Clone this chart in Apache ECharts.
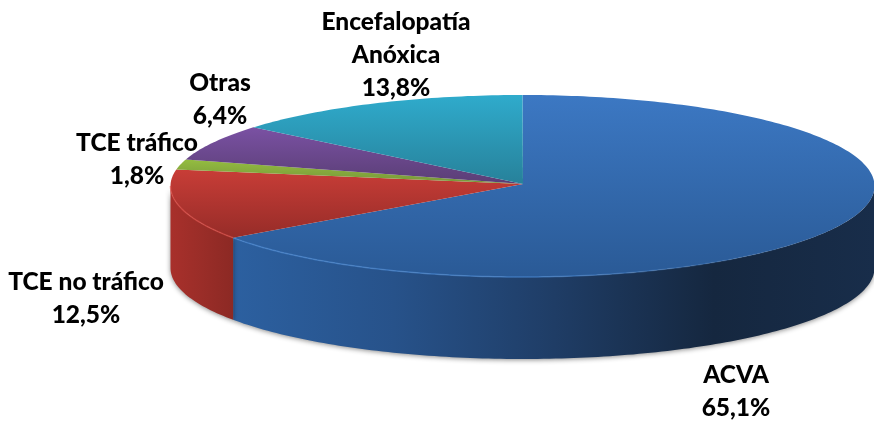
<!DOCTYPE html>
<html>
<head>
<meta charset="utf-8">
<style>
  html, body { margin: 0; padding: 0; background: #fff; }
  #chart { width: 874px; height: 424px; }
</style>
<script src="https://cdn.jsdelivr.net/npm/echarts@6/dist/echarts.min.js"></script>
</head>
<body>
<div id="chart"></div>
<script>
// data, clockwise from 12 o'clock
var categories = ["ACVA", "TCE no tráfico", "TCE tráfico", "Otras", "Encefalopatía\nAnóxica"];
var values = [65.1, 12.5, 1.8, 6.4, 13.8];
var valueLabels = ["65,1%", "12,5%", "1,8%", "6,4%", "13,8%"];

// layout of the tilted pie
var cx = 522.5, cy = 186, rx = 352, ry = 91, depth = 82;
var apex = [523, 184];
var labelPos = [[736, 375], [86, 282], [137, 143], [220, 83], [396, 22]];

// [top colour, bottom colour]
var topColors = [["#3c78c3", "#2a5a96"], ["#c83d37", "#962c28"], ["#94bd40", "#76953a"], ["#7a51a3", "#5a3e75"], ["#2fabcc", "#27819a"]];
var rimColors = ["#4a8ad6", "#e0504a", "#94bd40", "#7a51a3", "#2fabcc"];
// colours of the visible wall, left to right
var sideColors = [["#2c60a0", "#27528a", "#1f3d66", "#15273f", "#182d4a"], ["#a8302b", "#9a2d28", "#8c2924"]];

var total = 0;
values.forEach(function (v) { total += v; });

function sliceAngles(idx) {
    var a = 0;
    for (var i = 0; i < idx; i++) a += values[i];
    return [a / total * 360, (a + values[idx]) / total * 360];
}

function rimPoint(deg, dy) {
    var r = deg * Math.PI / 180;
    return [cx + rx * Math.sin(r), cy - ry * Math.cos(r) + dy];
}

function arcPoints(from, to, dy) {
    var pts = [];
    var n = Math.max(2, Math.ceil(Math.abs(to - from)));
    for (var i = 0; i <= n; i++) pts.push(rimPoint(from + (to - from) * i / n, dy));
    return pts;
}

function gradient(x2, y2, colors) {
    var stops = colors.map(function (c, i) {
        return { offset: i / (colors.length - 1), color: c };
    });
    return new echarts.graphic.LinearGradient(0, 0, x2, y2, stops);
}

function renderSide(params, api) {
    var ang = sliceAngles(params.dataIndex);
    var from = Math.max(ang[0], 90), to = Math.min(ang[1], 270);
    if (to <= from) return { type: "group", children: [] };
    var pts = arcPoints(from, to, 0).concat(arcPoints(to, from, depth));
    return {
        type: "polygon",
        shape: { points: pts },
        style: {
            fill: gradient(1, 0, sideColors[params.dataIndex]),
            shadowColor: "rgba(0,0,0,0.45)",
            shadowBlur: 5,
            shadowOffsetY: 1
        }
    };
}

function renderTop(params, api) {
    var i = params.dataIndex;
    var ang = sliceAngles(i);
    var pts = [apex].concat(arcPoints(ang[0], ang[1], 0));
    var children = [{
        type: "polygon",
        shape: { points: pts },
        style: { fill: gradient(0, 1, topColors[i]) }
    }];
    // light bevel along the front rim, fading out to the right
    var from = Math.max(ang[0], 120), to = Math.min(ang[1], 270);
    if (to > from) {
        children.push({
            type: "polyline",
            shape: { points: arcPoints(from, to, 0) },
            style: {
                fill: null,
                stroke: i === 0 ? gradient(1, 0, [rimColors[i], rimColors[i], "rgba(74,138,214,0)"]) : rimColors[i],
                lineWidth: 1.5,
                opacity: 0.6
            }
        });
    }
    return { type: "group", children: children };
}

var labelElements = categories.map(function (name, i) {
    return {
        type: "text",
        x: labelPos[i][0],
        y: labelPos[i][1] - 16,
        style: {
            text: name + "\n" + valueLabels[i],
            font: "900 24.5px Lato",
            fill: "#000",
            align: "center",
            lineHeight: 33
        }
    };
});

var chart = echarts.init(document.getElementById("chart"));
chart.setOption({
    animation: false,
    backgroundColor: "#fff",
    graphic: labelElements,
    series: [
        { type: "custom", coordinateSystem: "none", renderItem: renderSide, data: values, z: 1 },
        { type: "custom", coordinateSystem: "none", renderItem: renderTop, data: values, z: 2 }
    ]
});
</script>
</body>
</html>
